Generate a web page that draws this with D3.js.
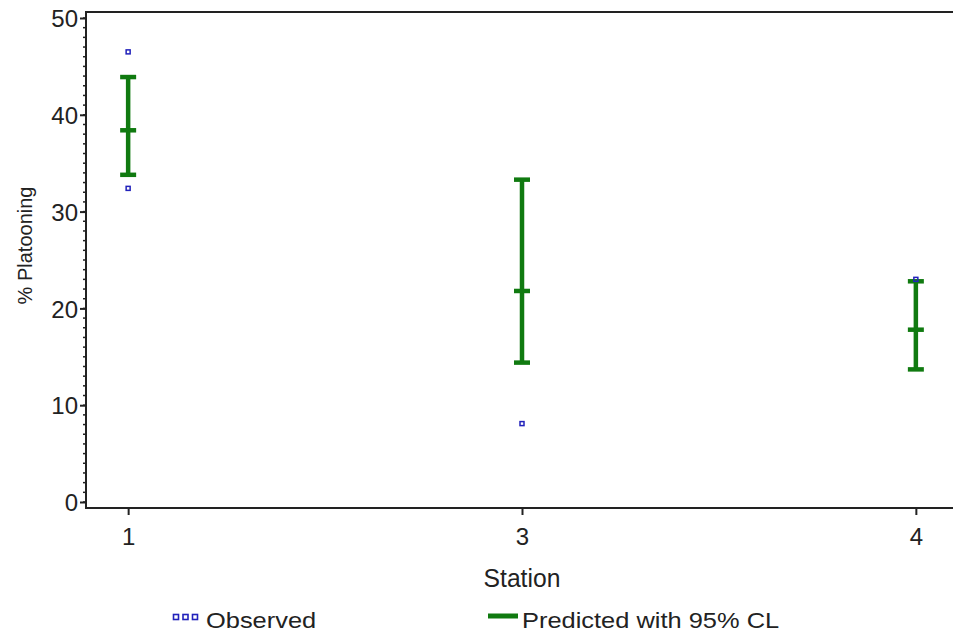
<!DOCTYPE html>
<html>
<head>
<meta charset="utf-8">
<script src="https://cdn.jsdelivr.net/npm/d3@7"></script>
<style>
  body { margin: 0; background: #fff; }
  text { font-family: "Liberation Sans", Arial, sans-serif; fill: #222; }
</style>
</head>
<body>
<div id="chartArea"></div>
<script>
// station categories
var stations = ["1", "3", "4"];
// predicted mean with 95% CL
var predMean  = [38.4, 21.8, 17.8];
var predLower = [33.8, 14.4, 13.7];
var predUpper = [43.9, 33.3, 22.8];
// observed points
var obsStation = ["1", "1", "3", "4"];
var obsValue   = [46.5, 32.4, 8.1, 23.0];
var yTicks = [0, 10, 20, 30, 40, 50];

var green = "#107a10", blue = "#2222bb";

var svg = d3.select("#chartArea").append("svg")
    .attr("width", 953).attr("height", 633);

var margin = { top: 12, right: -5, bottom: 125, left: 86 },
    width = 953 - margin.left - margin.right,
    height = 633 - margin.top - margin.bottom;

var g = svg.append("g").attr("transform", "translate(" + margin.left + "," + margin.top + ")");

var x = d3.scalePoint().domain(stations).range([0, width]).padding(0.107);
var y = d3.scaleLinear().domain([0, 50]).range([height - 6, 6]);

// frame
g.append("rect").attr("x", 0).attr("y", 0).attr("width", width).attr("height", height)
    .attr("fill", "none").attr("stroke", "#222").attr("stroke-width", 2);

// y minor ticks
g.append("g")
    .selectAll("line").data(d3.range(0, 51, 1)).enter().append("line")
    .attr("x1", -3).attr("x2", 0)
    .attr("y1", function(d) { return y(d); }).attr("y2", function(d) { return y(d); })
    .attr("stroke", "#222").attr("stroke-width", 1.5);

// y axis
var yAxis = g.append("g")
    .call(d3.axisLeft(y).tickValues(yTicks).tickSize(6).tickPadding(2));
yAxis.select(".domain").remove();
yAxis.selectAll(".tick line").attr("stroke", "#222").attr("stroke-width", 2);
yAxis.selectAll("text").style("font-size", "24px").attr("dy", "0.36em");

// x axis
var xAxis = g.append("g").attr("transform", "translate(0," + height + ")")
    .call(d3.axisBottom(x).tickSize(7).tickPadding(13));
xAxis.select(".domain").remove();
xAxis.selectAll(".tick line").attr("stroke", "#222").attr("stroke-width", 2);
xAxis.selectAll("text").style("font-size", "24px");

// axis titles
svg.append("text")
    .attr("transform", "translate(" + (margin.left + x("3")) + ",587) scale(0.95,1)")
    .style("text-anchor", "middle").style("font-size", "26px")
    .text("Station");

svg.append("text")
    .attr("transform", "translate(32," + (margin.top + y(26.5)) + ") rotate(-90)")
    .style("text-anchor", "middle").style("font-size", "20px")
    .text("% Platooning");

// predicted with CL
var pred = stations.map(function(s, i) {
    return { station: s, mean: predMean[i], lo: predLower[i], hi: predUpper[i] };
});
var capW = 8;
var bars = g.selectAll(".pred").data(pred).enter().append("g").attr("class", "pred")
    .attr("stroke", green).attr("stroke-width", 4.5);
bars.append("line")
    .attr("x1", function(d) { return x(d.station); }).attr("x2", function(d) { return x(d.station); })
    .attr("y1", function(d) { return y(d.lo); }).attr("y2", function(d) { return y(d.hi); });
["lo", "mean", "hi"].forEach(function(k) {
    bars.append("line")
        .attr("x1", function(d) { return x(d.station) - capW; })
        .attr("x2", function(d) { return x(d.station) + capW; })
        .attr("y1", function(d) { return y(d[k]); }).attr("y2", function(d) { return y(d[k]); });
});

// observed
g.selectAll(".obs").data(obsValue).enter().append("rect").attr("class", "obs")
    .attr("x", function(d, i) { return x(obsStation[i]) - 2; })
    .attr("y", function(d) { return y(d) - 2; })
    .attr("width", 4).attr("height", 4)
    .attr("fill", "none").attr("stroke", blue).attr("stroke-width", 1.5);

// legend
var leg = svg.append("g");
[176, 185.5, 195].forEach(function(px) {
    leg.append("rect").attr("x", px - 2.5).attr("y", 614.5).attr("width", 5).attr("height", 5)
        .attr("fill", "none").attr("stroke", blue).attr("stroke-width", 1.6);
});
leg.append("text").attr("transform", "translate(206,628) scale(1.13,1)")
    .style("font-size", "22.5px").text("Observed");
leg.append("line").attr("x1", 488).attr("x2", 518).attr("y1", 616).attr("y2", 616)
    .attr("stroke", green).attr("stroke-width", 5);
leg.append("text").attr("transform", "translate(522,628) scale(1.13,1)")
    .style("font-size", "22.5px").text("Predicted with 95% CL");
</script>
</body>
</html>
